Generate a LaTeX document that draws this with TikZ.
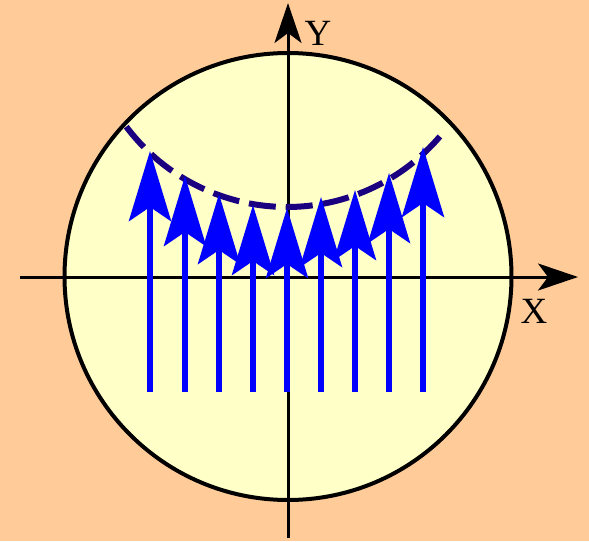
\documentclass[tikz,border=0pt]{standalone}
\usepackage{fontspec}
\setmainfont{Liberation Serif}
\usetikzlibrary{arrows.meta}
\definecolor{bg}{RGB}{255,204,153}
\definecolor{disc}{RGB}{255,255,200}
\definecolor{navy}{RGB}{26,0,128}
\begin{document}
\begin{tikzpicture}[x=1pt,y=-1pt,
  axis/.style={line width=3pt,-{Stealth[length=40pt,width=27pt,inset=10pt]}},
  ray/.style={draw=blue,line width=6pt,-{Stealth[length=70pt,width=42pt,inset=14pt]}},
  lab/.style={font=\fontsize{37}{37}\selectfont,inner sep=0pt}]
\fill[bg] (0,0) rectangle (589,541);
\useasboundingbox (0,0) rectangle (589,541);
% disc
\draw[line width=4pt,fill=disc] (288,276.5) circle[radius=223.5pt];
% axes
\coordinate (xs) at (20,277);
\coordinate (xe) at (578,277);
\coordinate (ys) at (288,538);
\coordinate (ye) at (288,3);
\draw[axis] (xs) -- (xe);
\draw[axis] (ys) -- (ye);
\node[lab] (xlab) at (534,311) {X};
\node[lab] (ylab) at (318,33) {Y};
% dashed wavefront
\draw[navy,line width=6pt,dash pattern=on 27pt off 10pt]
  plot[domain=143.1:38.3,samples=80] ({287+201*cos(\x)},{6+201*sin(\x)});
% rays
\foreach \i/\xx/\yy in {1/150/151,2/185/176,3/219/194,4/253/205,5/287/208,6/321/197,7/355/190,8/389/173,9/423/147}{
  \coordinate (b\i) at (\xx,392);
  \coordinate (t\i) at (\xx,\yy);
  \draw[ray] (b\i) -- (t\i);
}
\end{tikzpicture}
\end{document}
